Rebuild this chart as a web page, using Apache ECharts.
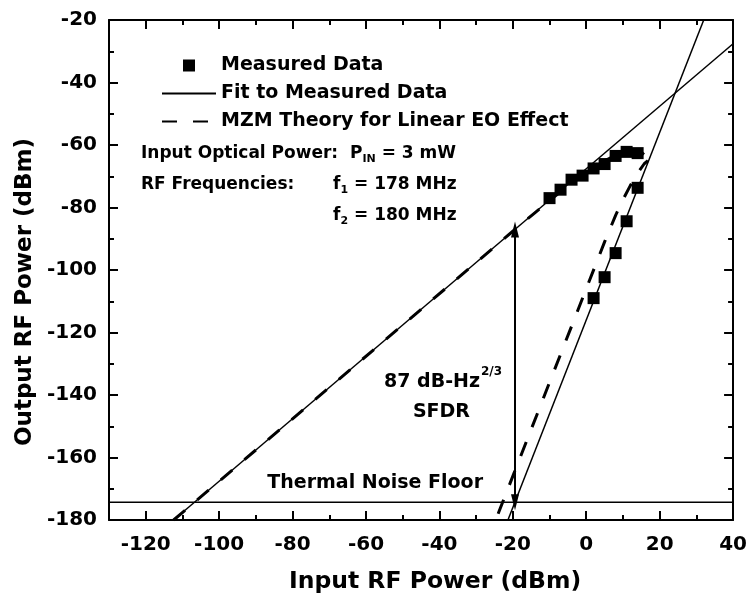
<!DOCTYPE html>
<html><head><meta charset="utf-8">
<script src="https://cdn.jsdelivr.net/npm/echarts@6/dist/echarts.min.js"></script>
<style>html,body{margin:0;padding:0;background:#fff}#c{width:750px;height:599px}</style>
</head><body><div id="c"></div>
<script>
// ---- data ----
const measuredFundX = [-10, -7, -4, -1, 2, 5, 8, 11, 14];
const measuredFundY = [-77.0, -74.3, -71.1, -69.8, -67.5, -66.1, -63.5, -62.2, -62.6];
const measuredImdX = [2, 5, 8, 11, 14];
const measuredImdY = [-109.0, -102.3, -94.6, -84.4, -73.7];
const fitFundX = [-112.4, 40];
const fitFundY = [-180, -27.6];
const fitImdX = [-21.33, 32];
const fitImdY = [-180, -20];
const theoryFundX = [-112.4, -20, -14, -10, -7, -4, -1, 2, 5, 8, 10, 12, 13.5, 15, 16, 16.8];
const theoryFundY = [-180, -87.6, -81.7, -77.8, -75.0, -72.3, -69.7, -67.3, -65.1, -63.3, -62.3, -61.8, -61.7, -62.3, -63.4, -65.0];
const theoryImdX = [-24, 0, 5, 8, 10, 12, 14, 15.8, 16.8];
const theoryImdY = [-178, -106, -91, -82.5, -77.5, -73, -69, -66, -65];
const noiseFloorX = [-130, 40];
const noiseFloorY = [-174.3, -174.3];
const sfdrX = -19.4, sfdrBottom = -174.3, sfdrTop = -87.0;
const xMajorTicks = [-120, -100, -80, -60, -40, -20, 0, 20, 40];
const xMinorTicks = [-130, -110, -90, -70, -50, -30, -10, 10, 30];
const yMajorTicks = [-180, -160, -140, -120, -100, -80, -60, -40, -20];
const yMinorTicks = [-170, -150, -130, -110, -90, -70, -50, -30];

const FONT = 'DejaVu Sans';
const zip = (xs, ys) => xs.map((x, i) => [x, ys[i]]);

const ctx = document.createElement('canvas').getContext('2d');
function tw(t, size) { ctx.font = 'bold ' + size + 'px "' + FONT + '"'; return ctx.measureText(t).width; }
function seq(x, y, parts) {
  const out = []; let cx = x;
  parts.forEach(p => {
    out.push({ type: 'text', x: cx, y: y + p[2], silent: true,
      style: { text: p[0], fontFamily: FONT, fontWeight: 'bold', fontSize: p[1], fill: '#000', align: 'left', verticalAlign: 'middle' } });
    cx += tw(p[0], p[1]);
  });
  return out;
}
function rtext(xr, y, t, size) {
  return { type: 'text', x: xr, y: y, silent: true,
    style: { text: t, fontFamily: FONT, fontWeight: 'bold', fontSize: size, fill: '#000', align: 'right', verticalAlign: 'middle' } };
}

const fx = 333;
const graphics = [].concat(
  seq(141, 154, [['Input Optical Power:  P', 17, 0], ['IN', 11, 5], [' = 3 mW', 17, 0]]),
  seq(141, 185, [['RF Frequencies:', 17, 0]]),
  seq(fx, 185, [['f', 17, 0], ['1', 11, 5], [' = 178 MHz', 17, 0]]),
  seq(fx, 216, [['f', 17, 0], ['2', 11, 5], [' = 180 MHz', 17, 0]]),
  [rtext(480, 382, '87 dB-Hz', 19)],
  seq(481, 372, [['2/3', 12, 0]]),
  [rtext(470, 412, 'SFDR', 19)],
  [rtext(483, 483, 'Thermal Noise Floor', 19)]
);

const axisColor = '#000';
function xAx(pos, ticks, len, labels, line) {
  return {
    type: 'value', min: -130, max: 40, position: pos,
    axisLine: { show: line, onZero: false, lineStyle: { color: axisColor, width: 2 } },
    axisTick: { show: true, inside: true, length: len, customValues: ticks, lineStyle: { color: axisColor, width: 2 } },
    axisLabel: labels ? { show: true, customValues: ticks, margin: 15, color: '#000', fontFamily: FONT, fontWeight: 'bold', fontSize: 20 } : { show: false },
    splitLine: { show: false },
    name: labels ? 'Input RF Power (dBm)' : '',
    nameLocation: 'middle', nameGap: 50,
    nameTextStyle: { color: '#000', fontFamily: FONT, fontWeight: 'bold', fontSize: 23.5, padding: [0, 0, 0, 28] }
  };
}
function yAx(pos, ticks, len, labels, line) {
  return {
    type: 'value', min: -180, max: -20, position: pos,
    axisLine: { show: line, onZero: false, lineStyle: { color: axisColor, width: 2 } },
    axisTick: { show: true, inside: true, length: len, customValues: ticks, lineStyle: { color: axisColor, width: 2 } },
    axisLabel: labels ? { show: true, customValues: ticks, margin: 12, color: '#000', fontFamily: FONT, fontWeight: 'bold', fontSize: 20 } : { show: false },
    splitLine: { show: false },
    name: labels ? 'Output RF Power (dBm)' : '',
    nameLocation: 'middle', nameGap: 64, nameRotate: 90,
    nameTextStyle: { color: '#000', fontFamily: FONT, fontWeight: 'bold', fontSize: 23, padding: [0, 44, 0, 0] }
  };
}

const solid = { color: '#000', width: 1.5, type: 'solid' };
const dashed = { color: '#000', width: 3, type: [15, 16] };
const black = { color: '#000', opacity: 1 };

const option = {
  animation: false,
  backgroundColor: '#fff',
  grid: { left: 109, right: 14, top: 20, bottom: 76, containLabel: false },
  xAxis: [xAx('bottom', xMajorTicks, 9, true, true), xAx('bottom', xMinorTicks, 5, false, false),
          xAx('top', xMajorTicks, 9, false, true), xAx('top', xMinorTicks, 5, false, false)],
  yAxis: [yAx('left', yMajorTicks, 9, true, true), yAx('left', yMinorTicks, 5, false, false),
          yAx('right', yMajorTicks, 9, false, true), yAx('right', yMinorTicks, 5, false, false)],
  legend: {
    orient: 'vertical', left: 156, top: 50, itemWidth: 54, itemHeight: 12, itemGap: 7,
    selectedMode: false, symbolKeepAspect: true,
    textStyle: { color: '#000', fontFamily: FONT, fontWeight: 'bold', fontSize: 19, lineHeight: 21 },
    data: [
      { name: 'Measured Data', icon: 'path://M0,0H10V10H0Z', itemStyle: { color: '#000', opacity: 1 } },
      { name: 'Fit to Measured Data', itemStyle: { opacity: 0 } },
      { name: 'MZM Theory for Linear EO Effect', itemStyle: { opacity: 0 } }
    ]
  },
  graphic: graphics,
  series: [
    { name: 'Fit to Measured Data', type: 'line', data: zip(fitFundX, fitFundY), symbol: 'none', lineStyle: solid, itemStyle: black, z: 3 },
    { name: 'Fit to Measured Data', type: 'line', data: zip(fitImdX, fitImdY), symbol: 'none', lineStyle: solid, itemStyle: black, z: 3 },
    { name: 'MZM Theory for Linear EO Effect', type: 'line', data: zip(theoryFundX, theoryFundY), symbol: 'none', lineStyle: dashed, itemStyle: black, z: 4 },
    { name: 'MZM Theory for Linear EO Effect', type: 'line', data: zip(theoryImdX, theoryImdY), symbol: 'none', lineStyle: dashed, itemStyle: black, z: 4 },
    { name: 'Noise Floor', type: 'line', data: zip(noiseFloorX, noiseFloorY), symbol: 'none', lineStyle: solid, itemStyle: black, z: 3,
      markLine: { silent: true, symbol: ['triangle', 'triangle'], symbolSize: [8, 16], label: { show: false },
        lineStyle: { color: '#000', width: 2, type: 'solid' },
        data: [[{ coord: [sfdrX, sfdrBottom] }, { coord: [sfdrX, sfdrTop] }]] } },
    { name: 'Measured Data', type: 'scatter', data: zip(measuredFundX, measuredFundY), symbol: 'rect', symbolSize: 12, itemStyle: black, z: 6 },
    { name: 'Measured Data', type: 'scatter', data: zip(measuredImdX, measuredImdY), symbol: 'rect', symbolSize: 12, itemStyle: black, z: 6 }
  ]
};
const chart = echarts.init(document.getElementById('c'), null, { renderer: 'canvas' });
chart.setOption(option);
</script></body></html>
